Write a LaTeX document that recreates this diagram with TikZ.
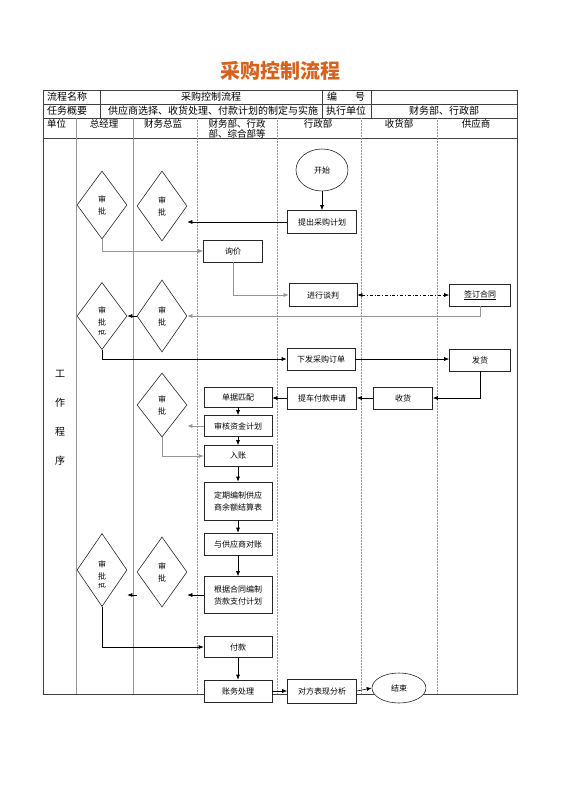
\documentclass[tikz,border=0pt]{standalone}
\usepackage{fontspec}
\usepackage{xcolor}
\usepackage{tikz}
\usetikzlibrary{shapes.geometric,arrows.meta}
\newfontfamily\cjk{Noto Sans CJK SC}
\definecolor{titleorange}{RGB}{214,98,28}
\definecolor{lanegray}{RGB}{150,150,150}
\tikzset{
  box/.style={draw=black!85, fill=white, line width=0.6pt, minimum width=68pt, minimum height=22pt, inner sep=1pt, align=center, font=\cjk\fontsize{8}{12}\selectfont},
  oval/.style={ellipse, draw=black!85, fill=white, line width=0.6pt, inner sep=0pt, font=\cjk\fontsize{8}{10}\selectfont},
  chk/.style={diamond, draw=black!85, fill=white, line width=0.6pt, minimum width=50pt, minimum height=70pt, inner sep=0pt, align=center, font=\cjk\fontsize{8}{12}\selectfont},
  link/.style={line width=0.6pt, -{Latex[length=5pt,width=4pt]}},
  glink/.style={link, draw=lanegray},
  lane/.style={lanegray, line width=0.5pt},
  tab/.style={font=\cjk\fontsize{10}{12}\selectfont, inner sep=0pt},
  hd/.style={font=\cjk\fontsize{9.5}{10}\selectfont, inner sep=0pt, align=center, anchor=north},
}

\begin{document}
\begin{tikzpicture}[x=1pt, y=-1pt]
\useasboundingbox (0,0) rectangle (560,792);

% title
\node[font=\cjk\bfseries\fontsize{20}{24}\selectfont, text=titleorange] (title) at (280,71) {采购控制流程};

% table and lanes
\draw[black!75, line width=0.6pt]
(43,90) rectangle (517,694)
(43,104) -- (517,104)
(43,118) -- (517,118)
(43,138) -- (517,138)
(100,90) -- (100,118)
(322,90) -- (322,118)
(371,90) -- (371,118);
\draw[lane]
(76,118) -- (76,694)
(133,118) -- (133,694);
\draw[lane, densely dotted]
(197,118) -- (197,694)
(277,118) -- (277,694)
(361,118) -- (361,694)
(437,118) -- (437,694);

\node[tab, anchor=west] (lblname) at (47,97) {流程名称};
\node[tab] (valname) at (211,97) {采购控制流程};
\node[tab, anchor=west] (lblno) at (327,97) {编};
\node[tab, anchor=west] (lblno2) at (355,97) {号};
\node[tab, anchor=west] (lbltask) at (47,111) {任务概要};
\node[tab, anchor=west] (valtask) at (108,111) {供应商选择、收货处理、付款计划的制定与实施};
\node[tab, anchor=west] (lblexec) at (326,111) {执行单位};
\node[tab] (valexec) at (444,111) {财务部、行政部};

\node[hd, anchor=north west] (hdunit) at (47,119.5) {单位};
\node[hd] (hdgm) at (104,119.5) {总经理};
\node[hd] (hdcfo) at (163,119.5) {财务总监};
\node[hd] (hdfin) at (237,119.5) {财务部、行政\\部、综合部等};
\node[hd] (hdadmin) at (318,119.5) {行政部};
\node[hd] (hdrecv) at (399,119.5) {收货部};
\node[hd] (hdsupp) at (476,119.5) {供应商};

\node[font=\cjk\fontsize{10}{29}\selectfont, align=center] (side) at (60,418) {工\\作\\程\\序};

% flow nodes
\node[oval, minimum width=52pt, minimum height=42pt] (start) at (322,170) {开始};
\node[box, minimum width=69pt, minimum height=23pt] (plan) at (322,222) {提出采购计划};
\node[chk, minimum height=68pt] (gm1) at (102,205) {审\\批};
\node[chk] (cfo1) at (162,206) {审\\批};
\node[box, minimum width=59pt] (inquiry) at (233,251) {询价};
\node[box, minimum height=23pt] (nego) at (323,295) {进行谈判};
\node[box, minimum width=61pt] (contract) at (480,295) {\underline{签订合同}};
\node[chk, minimum height=67pt] (gm2) at (102,316) {审\\批};
\node[chk, minimum height=72pt] (cfo2) at (162,316) {审\\批};
\node[box] (order) at (321,359) {下发采购订单};
\node[box, minimum width=61pt] (ship) at (480,360) {发货};
\node[box, minimum width=59pt] (recv) at (403,398) {收货};
\node[box, minimum width=69pt] (payreq) at (322,398) {提车付款申请};
\node[box, minimum height=20pt] (match) at (238,397) {单据匹配};
\node[box, minimum height=21pt] (fund) at (238,426) {审核资金计划};
\node[chk, minimum height=64pt] (cfo3) at (162,405) {审\\批};
\node[box, minimum height=21pt] (entry) at (238,456) {入账};
\node[box, minimum height=38pt] (balance) at (238,501) {定期编制供应\\商余额结算表};
\node[box] (reconcile) at (238,544) {与供应商对账};
\node[box, minimum height=37pt] (payplan) at (238,595) {根据合同编制\\货款支付计划};
\node[chk] (cfo4) at (162,572) {审\\批};
\node[chk, minimum height=73pt] (gm3) at (102,570) {审\\批};
\node[box, minimum height=21pt] (pay) at (238,647) {付款};
\node[box] (acct) at (238,691) {账务处理};
\node[box, minimum width=69pt, minimum height=24pt] (review) at (322,691) {对方表现分析};
\node[oval, minimum width=54pt, minimum height=30pt] (finish) at (399,688) {结束};

% cut-off extra lines in the approvals
\begin{scope}
\clip (94,330) rectangle (110,336);
\node[font=\cjk\fontsize{8}{10}\selectfont] (gm2x) at (102,331) {批};
\end{scope}
\begin{scope}
\clip (94,583) rectangle (110,589);
\node[font=\cjk\fontsize{8}{10}\selectfont] (gm3x) at (102,584) {批};
\end{scope}

% connectors
\draw[link] (start) -- (plan);
\draw[link] (plan.west) -- (cfo1.east |- plan.west);
\draw[glink] (gm1.south) |- (inquiry.west);
\draw[glink] (inquiry.south) |- (nego.west);
\draw[line width=0.6pt, dash dot, {Latex[length=5pt,width=4pt]}-{Latex[length=5pt,width=4pt]}] (nego.east) -- (contract.west);
\draw[glink] (contract.south) |- (cfo2.east);
\draw[link] (cfo2.west) -- (gm2.east);
\draw[link] (gm2.south) |- (order.west);
\draw[link] (order.east) -- (ship.west |- order.east);
\draw[link] (ship.south) |- (recv.east);
\draw[link] (recv.west) -- (payreq.east);
\draw[link] (payreq.west) -- (match.east |- payreq.west);
\draw[link] (match) -- (fund);
\draw[glink] (fund.west) -- (cfo3.east |- fund.west);
\draw[glink] (cfo3.south) |- (entry.west);
\draw[link] (fund) -- (entry);
\draw[link] (entry) -- (balance);
\draw[link] (balance) -- (reconcile);
\draw[link] (reconcile) -- (payplan);
\draw[link] (payplan.west) -- (cfo4.east |- payplan.west);
\draw[link] (cfo4.west |- payplan.west) -- (gm3.east |- payplan.west);
\draw[link] (gm3.south) |- (pay.west);
\draw[link] (pay) -- (acct);
\draw[link] (acct.east) -- (review.west);
\draw[link] (review.east) -- (finish.west);
\end{tikzpicture}
\end{document}
